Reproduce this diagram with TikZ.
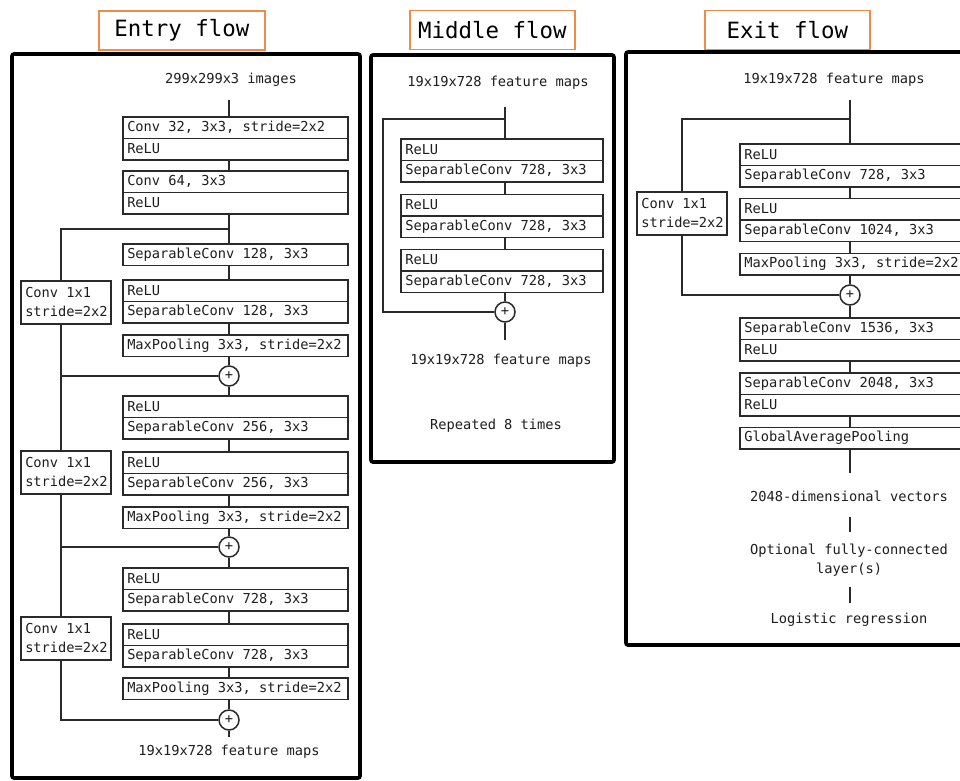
\documentclass[tikz,border=0pt]{standalone}
\usepackage{fontspec}
\setmonofont[WordSpace={1,0,0},PunctuationSpace=WordSpace]{DejaVu Sans Mono}
\definecolor{lc}{HTML}{2A2A2A}
\definecolor{tc}{HTML}{1E1E1E}
\definecolor{oc}{HTML}{F08A48}
\newcommand{\bodyfont}{\ttfamily\frenchspacing\fontsize{13.7}{19}\selectfont}
\newcommand{\titlefont}{\ttfamily\fontsize{22.4}{26}\selectfont}
\begin{document}
\begin{tikzpicture}[x=1pt,y=-1pt,
  every node/.style={execute at begin node={\spaceskip=0pt\xspaceskip=0pt}},
  ln/.style={draw=lc, line width=1.5pt},
  row/.style={draw=lc, line width=1.5pt, anchor=north west, minimum height=21.5pt,
    inner xsep=4.5pt, inner ysep=0pt, align=flush left, font=\bodyfont, text=tc},
  erow/.style={row, text width=216pt},
  mrow/.style={row, text width=193pt},
  xrow/.style={row, text width=230pt},
  sbox/.style={draw=lc, line width=1.5pt, anchor=north west, minimum height=43pt,
    inner xsep=4.5pt, inner ysep=0pt, text width=81pt, align=flush left, font=\bodyfont, text=tc},
  plus/.style={draw=lc, line width=1.5pt, circle, minimum size=20pt, inner sep=0pt,
    font=\bodyfont, text=tc},
  lbl/.style={font=\bodyfont, text=tc, align=center, inner sep=1pt},
  outer/.style={draw=black, line width=3.6pt, rounded corners=2pt},
  ttl/.style={draw=oc, line width=1.8pt, anchor=north west, font=\titlefont, text=black,
    inner sep=0pt}
]
\useasboundingbox (0,0) rectangle (960,780);
\clip (0,0) rectangle (960,780);
\fill[white] (0,0) rectangle (960,780);

% ---------- titles ----------
\node[ttl, minimum width=166pt, minimum height=39pt] (tE) at (98,10) {Entry flow};
\node[ttl, minimum width=165pt, minimum height=39pt] (tM) at (409,9.5) {Middle flow};
\node[ttl, minimum width=165pt, minimum height=39pt] (tX) at (704,9.5) {Exit flow};

% ---------- outer frames ----------
\draw[outer] (12,54) rectangle (360,778);
\draw[outer] (371,55) rectangle (614,462);
\draw[outer] (626,52) rectangle (980,645);

% ================= ENTRY FLOW =================
\coordinate (axE) at (229,0);
\coordinate (lxE) at (61,0);
\node[lbl] (eIn) at (231,80) {299x299x3 images};
\coordinate (eTop) at (229,100);
\node[erow] (e1a) at (122,116) {Conv 32, 3x3, stride=2x2};
\node[erow] (e1b) at (122,137.5) {ReLU};
\node[erow] (e2a) at (122,170) {Conv 64, 3x3};
\node[erow] (e2b) at (122,191.5) {ReLU};
\coordinate (bE1) at (229,229);
\node[erow] (e3) at (122,243) {SeparableConv 128, 3x3};
\node[sbox] (c1) at (20,280) {Conv 1x1\\stride=2x2};
\node[erow] (e4a) at (122,279) {ReLU};
\node[erow] (e4b) at (122,300.5) {SeparableConv 128, 3x3};
\node[erow] (e5) at (122,334) {MaxPooling 3x3, stride=2x2};
\node[plus] (p1) at (229,376) {+};
\node[erow] (e6a) at (122,395) {ReLU};
\node[erow] (e6b) at (122,416.5) {SeparableConv 256, 3x3};
\node[sbox] (c2) at (20,450) {Conv 1x1\\stride=2x2};
\node[erow] (e7a) at (122,451) {ReLU};
\node[erow] (e7b) at (122,472.5) {SeparableConv 256, 3x3};
\node[erow] (e8) at (122,506) {MaxPooling 3x3, stride=2x2};
\node[plus] (p2) at (229,547) {+};
\node[erow] (e9a) at (122,567) {ReLU};
\node[erow] (e9b) at (122,588.5) {SeparableConv 728, 3x3};
\node[sbox] (c3) at (20,616) {Conv 1x1\\stride=2x2};
\node[erow] (e10a) at (122,623) {ReLU};
\node[erow] (e10b) at (122,644.5) {SeparableConv 728, 3x3};
\node[erow] (e11) at (122,677) {MaxPooling 3x3, stride=2x2};
\node[plus] (p3) at (229,720) {+};
\coordinate (eBot) at (229,737);
\node[lbl] (eOut) at (229,752) {19x19x728 feature maps};

\draw[ln] (eTop) -- (e1a.north -| axE);
\draw[ln] (e1b.south -| axE) -- (e2a.north -| axE);
\draw[ln] (e2b.south -| axE) -- (e3.north -| axE);
\draw[ln] (bE1) -| (c1.north -| lxE);
\draw[ln] (e3.south -| axE) -- (e4a.north -| axE);
\draw[ln] (e4b.south -| axE) -- (e5.north -| axE);
\draw[ln] (e5.south -| axE) -- (p1.north);
\draw[ln] (c1.south -| lxE) |- (p1.west);
\draw[ln] (p1.west) -| (c2.north -| lxE);
\draw[ln] (p1.south) -- (e6a.north -| axE);
\draw[ln] (e6b.south -| axE) -- (e7a.north -| axE);
\draw[ln] (e7b.south -| axE) -- (e8.north -| axE);
\draw[ln] (e8.south -| axE) -- (p2.north);
\draw[ln] (c2.south -| lxE) |- (p2.west);
\draw[ln] (p2.west) -| (c3.north -| lxE);
\draw[ln] (p2.south) -- (e9a.north -| axE);
\draw[ln] (e9b.south -| axE) -- (e10a.north -| axE);
\draw[ln] (e10b.south -| axE) -- (e11.north -| axE);
\draw[ln] (e11.south -| axE) -- (p3.north);
\draw[ln] (c3.south -| lxE) |- (p3.west);
\draw[ln] (p3.south) -- (eBot);

% ================= MIDDLE FLOW =================
\coordinate (axM) at (505,0);
\coordinate (lxM) at (383,0);
\node[lbl] (mIn) at (498,83) {19x19x728 feature maps};
\coordinate (mTop) at (505,107);
\coordinate (bM) at (505,119);
\node[mrow] (m1a) at (400,138) {ReLU};
\node[mrow] (m1b) at (400,159.5) {SeparableConv 728, 3x3};
\node[mrow] (m2a) at (400,193.5) {ReLU};
\node[mrow] (m2b) at (400,215) {SeparableConv 728, 3x3};
\node[mrow] (m3a) at (400,248.5) {ReLU};
\node[mrow] (m3b) at (400,270) {SeparableConv 728, 3x3};
\node[plus] (pm) at (505,312) {+};
\coordinate (mBot) at (505,340);
\node[lbl] (mOut) at (501,361) {19x19x728 feature maps};
\node[lbl] (mRep) at (496,426) {Repeated 8 times};

\draw[ln] (mTop) -- (m1a.north -| axM);
\draw[ln] (bM) -| (lxM |- pm.west) -- (pm.west);
\draw[ln] (m1b.south -| axM) -- (m2a.north -| axM);
\draw[ln] (m2b.south -| axM) -- (m3a.north -| axM);
\draw[ln] (m3b.south -| axM) -- (pm.north);
\draw[ln] (pm.south) -- (mBot);

% ================= EXIT FLOW =================
\coordinate (axX) at (850,0);
\coordinate (lxX) at (682,0);
\node[lbl] (xIn) at (834,80) {19x19x728 feature maps};
\coordinate (xTop) at (850,100);
\coordinate (bX) at (850,119);
\node[sbox] (cx) at (636,191) {Conv 1x1\\stride=2x2};
\node[xrow] (x1a) at (739,143) {ReLU};
\node[xrow] (x1b) at (739,164.5) {SeparableConv 728, 3x3};
\node[xrow] (x2a) at (739,197.5) {ReLU};
\node[xrow] (x2b) at (739,219) {SeparableConv 1024, 3x3};
\node[xrow] (x3) at (739,252.5) {MaxPooling 3x3, stride=2x2};
\node[plus] (px) at (850,295) {+};
\node[xrow] (x4a) at (739,317) {SeparableConv 1536, 3x3};
\node[xrow] (x4b) at (739,338.5) {ReLU};
\node[xrow] (x5a) at (739,372) {SeparableConv 2048, 3x3};
\node[xrow] (x5b) at (739,393.5) {ReLU};
\node[xrow] (x6) at (739,426.5) {GlobalAveragePooling};
\coordinate (g1) at (850,473);
\node[lbl] (xV) at (849,496) {2048-dimensional vectors};
\coordinate (v1) at (850,517);
\coordinate (v2) at (850,532);
\node[lbl] (xFC) at (849,560) {Optional fully-connected\\layer(s)};
\coordinate (f1) at (850,587);
\coordinate (f2) at (850,603);
\node[lbl] (xLR) at (849,620) {Logistic regression};

\draw[ln] (xTop) -- (x1a.north -| axX);
\draw[ln] (bX) -| (cx.north -| lxX);
\draw[ln] (cx.south -| lxX) |- (px.west);
\draw[ln] (x1b.south -| axX) -- (x2a.north -| axX);
\draw[ln] (x2b.south -| axX) -- (x3.north -| axX);
\draw[ln] (x3.south -| axX) -- (px.north);
\draw[ln] (px.south) -- (x4a.north -| axX);
\draw[ln] (x4b.south -| axX) -- (x5a.north -| axX);
\draw[ln] (x5b.south -| axX) -- (x6.north -| axX);
\draw[ln] (x6.south -| axX) -- (g1);
\draw[ln] (v1) -- (v2);
\draw[ln] (f1) -- (f2);
\end{tikzpicture}
\end{document}
